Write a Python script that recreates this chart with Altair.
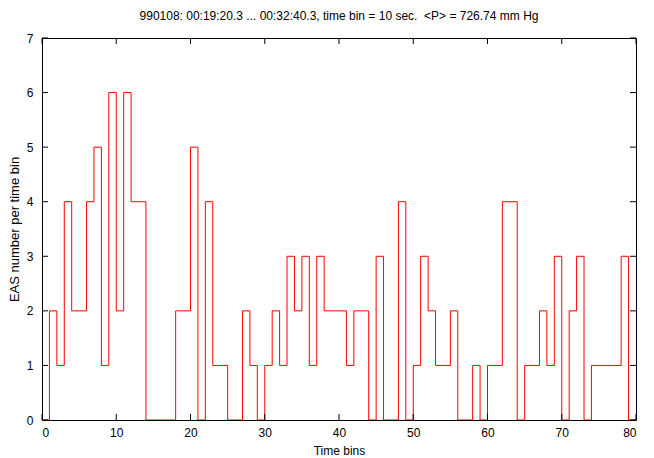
import altair as alt
import pandas as pd

# EAS counts per 10-second time bin (bins 0..79)
counts = [0, 2, 1, 4, 2, 2, 4, 5, 1, 6,
          2, 6, 4, 4, 0, 0, 0, 0, 2, 2,
          5, 0, 4, 1, 1, 0, 0, 2, 1, 0,
          1, 2, 1, 3, 2, 3, 1, 3, 2, 2,
          2, 1, 2, 2, 0, 3, 0, 0, 4, 0,
          1, 3, 2, 1, 1, 2, 0, 0, 1, 0,
          1, 1, 4, 4, 0, 1, 1, 2, 1, 3,
          0, 2, 3, 0, 1, 1, 1, 1, 3, 0]
bins = list(range(len(counts)))
x_ticks = [0, 10, 20, 30, 40, 50, 60, 70, 80]
y_ticks = [0, 1, 2, 3, 4, 5, 6, 7]

W, H = 594, 382
TL = 6

df = pd.DataFrame({"v": bins + [len(counts)], "n": counts + [0]})
xt = pd.DataFrame({"v": x_ticks})
yt = pd.DataFrame({"n": y_ticks})

xs = alt.Scale(domain=[0, 80], nice=False, zero=False)
ys = alt.Scale(domain=[0, 7], nice=False)

xaxis = alt.Axis(values=x_ticks, format="d", grid=False, domain=False, ticks=False,
                 labelPadding=7, titlePadding=7)
yaxis = alt.Axis(values=y_ticks, format="d", grid=False, domain=False, ticks=False,
                 labelPadding=9, titlePadding=5, titleFontSize=13)
X = alt.X("v:Q", scale=xs, title="Time bins", axis=xaxis)
Y = alt.Y("n:Q", scale=ys, title="EAS number per time bin", axis=yaxis)

line = alt.Chart(df).mark_line(interpolate="step-after", color="#ff0000", strokeWidth=1, clip=True).encode(
    x=X, y=Y)

tick_style = dict(color="black", strokeWidth=1)
xb = alt.Chart(xt).mark_rule(**tick_style).encode(x=X, y=alt.value(H), y2=alt.value(H - TL))
xtop = alt.Chart(xt).mark_rule(**tick_style).encode(x=X, y=alt.value(0), y2=alt.value(TL))
yl = alt.Chart(yt).mark_rule(**tick_style).encode(y=Y, x=alt.value(0), x2=alt.value(TL))
yr = alt.Chart(yt).mark_rule(**tick_style).encode(y=Y, x=alt.value(W), x2=alt.value(W - TL))

chart = alt.layer(line, xb, xtop, yl, yr).properties(
    width=W, height=H,
    title=alt.Title("990108: 00:19:20.3 ... 00:32:40.3, time bin = 10 sec.\u00a0 <P> = 726.74 mm Hg",
                    fontSize=12, fontWeight="normal", font="Liberation Sans", color="black",
                    anchor="middle", offset=9),
    autosize=alt.AutoSizeParams(type="none"),
    padding={"left": 34, "top": 30, "right": 10, "bottom": 38},
).configure_view(stroke="black", strokeWidth=1).configure_axis(
    labelFont="Liberation Sans", labelFontSize=12, labelColor="black",
    titleFont="Liberation Sans", titleFontSize=12, titleFontWeight="normal", titleColor="black",
)

chart.save("out.html", embed_options={"renderer": "svg", "actions": False})
